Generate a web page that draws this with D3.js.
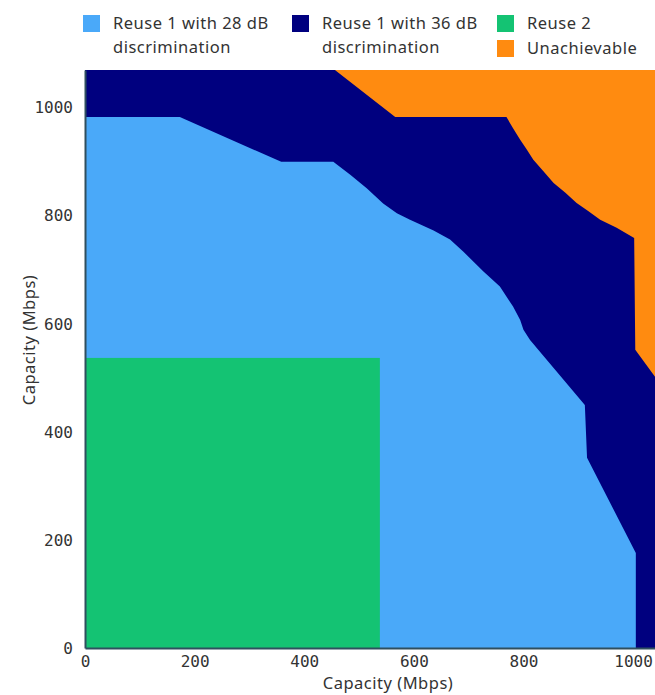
<!DOCTYPE html>
<html>
<head>
<meta charset="utf-8">
<script src="https://cdn.jsdelivr.net/npm/d3@7"></script>
<style>
  body { margin: 0; background: #fff; }
  svg { display: block; }
</style>
</head>
<body>
<svg id="chart" width="655" height="695"></svg>
<script>
// ---- Data ----
const categories = ["Reuse 1 with 28 dB discrimination", "Reuse 1 with 36 dB discrimination", "Reuse 2", "Unachievable"];
const colors = ["#4aa9f9", "#00007f", "#14c373", "#ff8b10"];
const xTicks = [0, 200, 400, 600, 800, 1000];
const yTicks = [0, 200, 400, 600, 800, 1000];
const xDomain = [0, 1040];
const yDomain = [0, 1070];

// Upper boundary of the "Reuse 1 with 28 dB" region (x, y in Mbps)
const reuse28X = [0, 173, 358, 453, 484, 514, 544, 569, 593, 636, 666, 690, 727, 757, 781, 794, 800, 812, 912, 916, 1005, 1005];
const reuse28Y = [983, 983, 900, 900, 876, 851, 823, 805, 793, 773, 756, 734, 697, 669, 632, 607, 589, 570, 450, 352, 176, 0];

// Lower boundary of the "Unachievable" region (x, y in Mbps)
const unachX = [456, 566, 769, 781, 794, 806, 818, 836, 855, 876, 897, 918, 940, 970, 1002, 1004, 1040];
const unachY = [1070, 983, 983, 962, 941, 923, 904, 883, 861, 843, 824, 809, 793, 778, 759, 552, 502];

// Reuse 2 region (square, Mbps)
const reuse2X = 538;
const reuse2Y = 537;

// ---- Layout ----
const svg = d3.select("#chart");
const margin = { left: 85, top: 70, right: 0, bottom: 47 };
const W = 655, H = 695;
const x = d3.scaleLinear().domain(xDomain).range([margin.left, W - margin.right]);
const y = d3.scaleLinear().domain(yDomain).range([H - margin.bottom, margin.top]);

const g = svg.append("g");

// background region: Reuse 1 with 36 dB
g.append("rect")
  .attr("x", x(xDomain[0])).attr("y", y(yDomain[1]))
  .attr("width", x(xDomain[1]) - x(xDomain[0]))
  .attr("height", y(yDomain[0]) - y(yDomain[1]))
  .attr("fill", colors[1]);

const line = d3.line().x(d => x(d[0])).y(d => y(d[1]));

// Reuse 1 with 28 dB polygon
const p28 = [[0, 0]].concat(reuse28X.map((v, i) => [v, reuse28Y[i]]));
g.append("path").attr("d", line(p28) + "Z").attr("fill", colors[0]);

// Reuse 2 rect
g.append("rect")
  .attr("x", x(0)).attr("y", y(reuse2Y))
  .attr("width", x(reuse2X) - x(0))
  .attr("height", y(0) - y(reuse2Y))
  .attr("fill", colors[2]);

// Unachievable polygon
const pUn = unachX.map((v, i) => [v, unachY[i]]).concat([[xDomain[1], yDomain[1]]]);
g.append("path").attr("d", line(pUn) + "Z").attr("fill", colors[3]);

// ---- Axes ----
const monoFont = "'DejaVu Sans Mono', monospace";
const fmt = d3.format("d");
const xAxis = d3.axisBottom(x).tickValues(xTicks).tickFormat(fmt).tickSize(0).tickPadding(8);
const yAxis = d3.axisLeft(y).tickValues(yTicks).tickFormat(fmt).tickSize(0).tickPadding(12);

const gx = svg.append("g").attr("transform", `translate(0,${y(0)})`).call(xAxis);
gx.select(".domain").attr("stroke", "#2f4f5f").attr("stroke-width", 2);
gx.selectAll("text").attr("font-family", monoFont).attr("font-size", 16).attr("fill", "#333");

const gy = svg.append("g").attr("transform", `translate(${x(0)},0)`).call(yAxis);
gy.select(".domain").attr("stroke", "#2f4f5f").attr("stroke-width", 2);
gy.selectAll("text").attr("font-family", monoFont).attr("font-size", 16).attr("fill", "#333");

const sansFont = "'Noto Sans', sans-serif";
svg.append("text")
  .attr("x", 388).attr("y", 689)
  .attr("text-anchor", "middle")
  .attr("font-family", sansFont).attr("font-size", 16.5).attr("letter-spacing", 0.5).attr("fill", "#333")
  .text("Capacity (Mbps)");
svg.append("text")
  .attr("transform", `translate(35,340) rotate(-90)`)
  .attr("text-anchor", "middle")
  .attr("font-family", sansFont).attr("font-size", 16.5).attr("letter-spacing", 0.5).attr("fill", "#333")
  .text("Capacity (Mbps)");

// ---- Legend ----
const legendPos = [[83, 15], [292, 15], [497, 15], [497, 40]];
const legendLines = [["Reuse 1 with 28 dB", "discrimination"], ["Reuse 1 with 36 dB", "discrimination"], ["Reuse 2"], ["Unachievable"]];
const lg = svg.append("g");
categories.forEach((c, i) => {
  const [lx, ly] = legendPos[i];
  lg.append("rect").attr("x", lx).attr("y", ly).attr("width", 17).attr("height", 17).attr("fill", colors[i]);
  const t = lg.append("text").attr("x", lx + 30).attr("y", ly + 14)
    .attr("font-family", sansFont).attr("font-size", 16.5).attr("letter-spacing", 0.5).attr("fill", "#333");
  legendLines[i].forEach((s, j) => {
    t.append("tspan").attr("x", lx + 30).attr("dy", j === 0 ? 0 : 24).text(s);
  });
});
</script>
</body>
</html>
